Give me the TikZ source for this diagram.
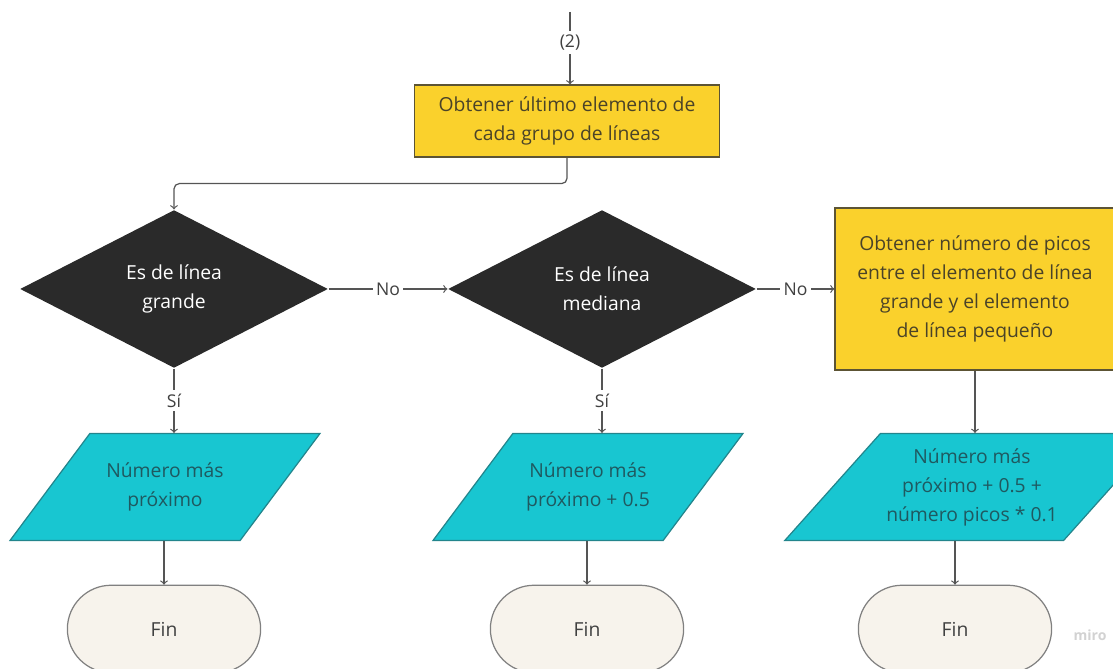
\documentclass[tikz,border=0pt]{standalone}
\usepackage{fontspec}
\setmainfont{Open Sans}
\usetikzlibrary{positioning,shapes.geometric,shapes.misc}
\definecolor{procfill}{HTML}{FAD12C}
\definecolor{procdraw}{HTML}{5C5434}
\definecolor{proctext}{HTML}{4A4328}
\definecolor{iofill}{HTML}{18C6D1}
\definecolor{iodraw}{HTML}{23858C}
\definecolor{iotext}{HTML}{1F5960}
\definecolor{decfill}{HTML}{2A2A2A}
\definecolor{endfill}{HTML}{F7F3EC}
\definecolor{linegray}{HTML}{555555}

\begin{document}
\begin{tikzpicture}[x=0.02cm, y=0.02cm, line width=0.7pt, color=linegray,
  every node/.style={font=\fontsize{11}{16.5}\selectfont, align=center},
  process/.style={draw=procdraw, fill=procfill, text=proctext, rectangle},
  decision/.style={diamond, fill=decfill, text=white, inner sep=0pt, minimum width=6.16cm, minimum height=3.16cm},
  iobox/.style={trapezium, trapezium stretches body, draw=iodraw, fill=iofill, text=iotext, minimum height=2.14cm},
  terminal/.style={rounded rectangle, draw=gray, fill=endfill, text=black!75, minimum width=4.1cm, minimum height=1.75cm},
  lbl/.style={fill=white, text=black!75, inner sep=2pt, font=\fontsize{10}{12}\selectfont}]
  \useasboundingbox (0,0) rectangle (1113,669);

  \coordinate (Start) at (570,657);
  \node (Obtener) [process, minimum width=6.1cm, minimum height=1.44cm] at (567,548) {Obtener último elemento de\\cada grupo de líneas};
  \node (Grande) [decision] at (174,380) {Es de línea\\grande};
  \node (Mediana) [decision] at (602,380) {Es de línea\\mediana};
  \node (Picos) [process, minimum width=5.6cm, minimum height=3.24cm] at (975,380) {Obtener número de picos\\entre el elemento de línea\\grande y el elemento\\de línea pequeño};
  \node (OutGrande) [iobox, trapezium left angle=37, trapezium right angle=143, minimum width=6.2cm] at (165,182) {Número más\\próximo};
  \node (OutMediana) [iobox, trapezium left angle=37, trapezium right angle=143, minimum width=6.2cm] at (588,182) {Número más\\próximo + 0.5};
  \node (OutPicos) [iobox, trapezium left angle=43, trapezium right angle=137, minimum width=6.9cm] at (972,182) {Número más\\próximo + 0.5 +\\número picos * 0.1};
  \node (FinGrande) [terminal] at (164,40) {Fin};
  \node (FinMediana) [terminal] at (587,40) {Fin};
  \node (FinPicos) [terminal] at (955,40) {Fin};
  \node (Miro) [text=gray!35, font=\fontsize{8}{8}\selectfont\bfseries] at (1090,34) {miro};

  \draw[->] (Start) -- node[lbl, pos=0.42] {(2)} (Start |- Obtener.north);
  \draw[->, rounded corners=3pt] (Obtener.south) -- ++(0,-26) -| (Grande.north);
  \draw[->] (Grande.east) -- node[lbl] {No} (Mediana.west);
  \draw[->] (Mediana.east) -- node[lbl] {No} (Picos.west);
  \draw[->] (Grande.south) -- node[lbl] {Sí} (Grande.south |- OutGrande.top side);
  \draw[->] (Mediana.south) -- node[lbl] {Sí} (Mediana.south |- OutMediana.top side);
  \draw[->] (Picos.south) -- (Picos.south |- OutPicos.top side);
  \draw[->] (FinGrande.north |- OutGrande.bottom side) -- (FinGrande.north);
  \draw[->] (FinMediana.north |- OutMediana.bottom side) -- (FinMediana.north);
  \draw[->] (FinPicos.north |- OutPicos.bottom side) -- (FinPicos.north);
\end{tikzpicture}
\end{document}
